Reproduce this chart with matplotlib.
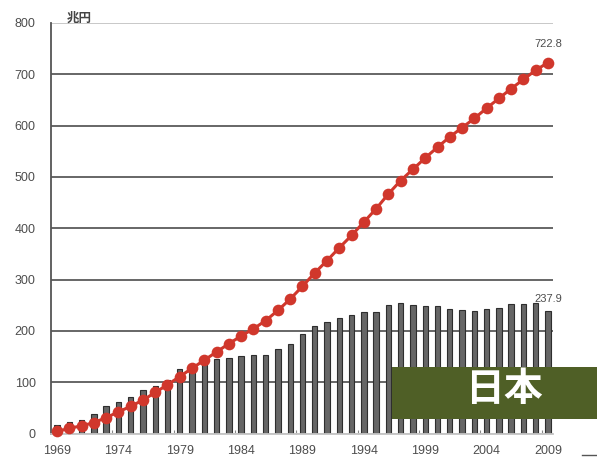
import numpy as np
import matplotlib
matplotlib.use("Agg")
import matplotlib.pyplot as plt
from matplotlib.patches import Rectangle
from matplotlib.lines import Line2D

years = list(range(1969, 2010))
bar_values = [17, 23, 27, 38, 54, 62, 72, 85, 93, 105,
              125, 131, 138, 145, 148, 151, 153, 153, 165, 174,
              194, 210, 218, 225, 230, 236, 236, 250, 254, 251,
              248, 248, 243, 241, 239, 243, 245, 252, 252, 255,
              237.9]
line_values = [4, 10, 15, 21, 31, 42, 53, 65, 80, 95,
               111, 127, 143, 159, 175, 190, 204, 220, 240, 262,
               287, 313, 337, 362, 386, 412, 438, 467, 493, 515,
               537, 558, 578, 596, 614, 634, 653, 672, 690, 708,
               722.8]
y_ticks = [0, 100, 200, 300, 400, 500, 600, 700, 800]
x_tick_years = [1969, 1974, 1979, 1984, 1989, 1994, 1999, 2004, 2009]
unit_label = "兆円"
badge_text = "日本"

W, H = 597, 457
fig = plt.figure(figsize=(W / 100, H / 100), dpi=100)
fig.patch.set_facecolor("white")
ax = fig.add_axes([51 / W, 1 - 433.5 / H, 502 / W, 410.5 / H])

x = np.arange(len(years))
text_gray = "#4d4d4d"
num_font = ["Liberation Sans", "DejaVu Sans"]
cjk_font = ["Noto Sans CJK JP", "DejaVu Sans"]

ax.bar(x, bar_values, width=0.44, color="#666666", edgecolor="#2e2e2e",
       linewidth=0.8, zorder=2)
ax.plot(x, line_values, color="#d0372c", linewidth=2.2, marker="o",
        markersize=8.4, markeredgewidth=0, zorder=4, clip_on=False)

ax.set_xlim(-0.49, len(years) - 1 + 0.41)
ax.set_ylim(0, 800)

ax.set_yticks(y_ticks)
ax.set_yticklabels([str(v) for v in y_ticks], family=num_font,
                   fontsize=9, color=text_gray)
ax.set_xticks([years.index(yv) for yv in x_tick_years])
ax.set_xticklabels([str(yv) for yv in x_tick_years], family=num_font,
                   fontsize=9, color=text_gray)
ax.tick_params(axis="y", length=0, pad=11)
ax.tick_params(axis="x", length=0, pad=8.5)
ax.set_xticks(np.arange(4.5, len(years) - 1, 5), minor=True)
ax.tick_params(axis="x", which="minor", direction="in", length=3,
               width=0.8, color="#888888")

ax.set_axisbelow(True)
ax.yaxis.grid(True, color="#5a5a5a", linewidth=1.3)
grid = ax.get_ygridlines()
grid[-1].set_color("#c4c4c4")
grid[0].set_color("#c4c4c4")

for side in ["top", "right"]:
    ax.spines[side].set_visible(False)
ax.spines["bottom"].set_color("#c4c4c4")
ax.spines["bottom"].set_linewidth(1.3)
ax.spines["left"].set_color("#555555")
ax.spines["left"].set_linewidth(1.3)

# value labels at the last point of each series
ax.annotate(f"{line_values[-1]}", (x[-1], line_values[-1]),
            xytext=(0, 9.5), textcoords="offset points", ha="center",
            va="bottom", fontsize=8, family=num_font, color=text_gray)
ax.annotate(f"{bar_values[-1]}", (x[-1], bar_values[-1]),
            xytext=(0, 5), textcoords="offset points", ha="center",
            va="bottom", fontsize=8, family=num_font, color=text_gray)

fig.text(67 / W, 1 - 18.5 / H, unit_label, family=cjk_font, fontsize=9,
         color="#444444", ha="left", va="center", fontweight="bold")

# badge in the lower right corner
fig.patches.append(Rectangle((392 / W, 1 - 419 / H), 1 - 392 / W, 52.3 / H,
                             transform=fig.transFigure, facecolor="#4f5f26",
                             edgecolor="none", zorder=5))
fig.text(504 / W, 1 - 389 / H, badge_text, family=cjk_font, fontsize=28,
         fontweight="bold", color="white", ha="center", va="center",
         zorder=6)

fig.lines.append(Line2D([582 / W, 1.0], [1 - 455 / H, 1 - 455 / H],
                        transform=fig.transFigure, color="#555555",
                        linewidth=1.0))

fig.savefig("out.png", dpi=100)
